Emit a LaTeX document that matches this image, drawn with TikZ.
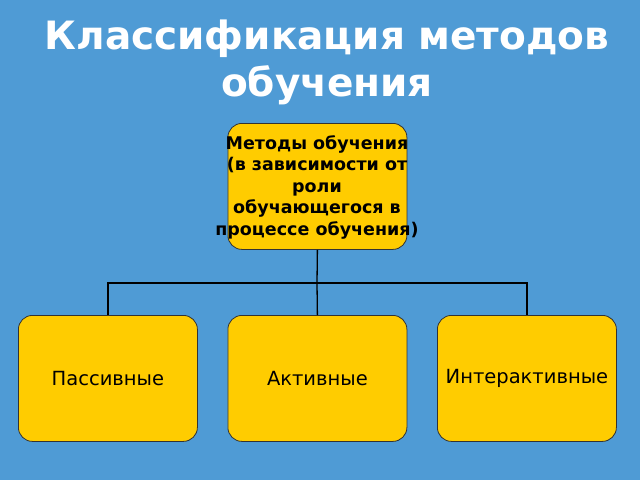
\documentclass[tikz,border=0pt]{standalone}
\usepackage{fontspec}
\setmainfont{DejaVu Sans}
\definecolor{bg}{RGB}{79,155,213}
\definecolor{yel}{RGB}{255,204,0}
\begin{document}
\begin{tikzpicture}[x=1pt,y=-1pt,
  box/.style={draw=black!80,fill=yel,rounded corners=14pt,line width=0.8pt,minimum width=179pt,minimum height=126pt,anchor=north west,inner sep=0pt},
  conn/.style={line width=1.3pt,black}]
\fill[bg] (0,0) rectangle (640,480);
\useasboundingbox (0,0) rectangle (640,480);
\node[white,font=\fontsize{39}{47}\selectfont\bfseries,align=center] (title) at (327,62) {Классификация методов\\обучения};
\node[box] (top) at (227.5,123) {};
\node[font=\fontsize{17.5}{21.5}\selectfont\bfseries,align=center] (toptext) at (317,187) {Методы обучения\\(в зависимости от\\роли\\обучающегося в\\процессе обучения)};
\node[box] (a) at (18,315) {};
\node[box] (b) at (227.5,315) {};
\node[box] (c) at (437,315) {};
\node[font=\fontsize{19.5}{22}\selectfont] (at) at (a.center) {Пассивные};
\node[font=\fontsize{19.5}{22}\selectfont] (bt) at (b.center) {Активные};
\node[font=\fontsize{19.5}{22}\selectfont] (ct) at (c.center) {Интерактивные};
\coordinate (j) at (317,283);
\draw[conn] (top.south) -- (j);
\draw[conn] (j) -| (a.north);
\draw[conn] (j) -| (c.north);
\draw[conn] (j) -- (b.north);
\end{tikzpicture}
\end{document}
